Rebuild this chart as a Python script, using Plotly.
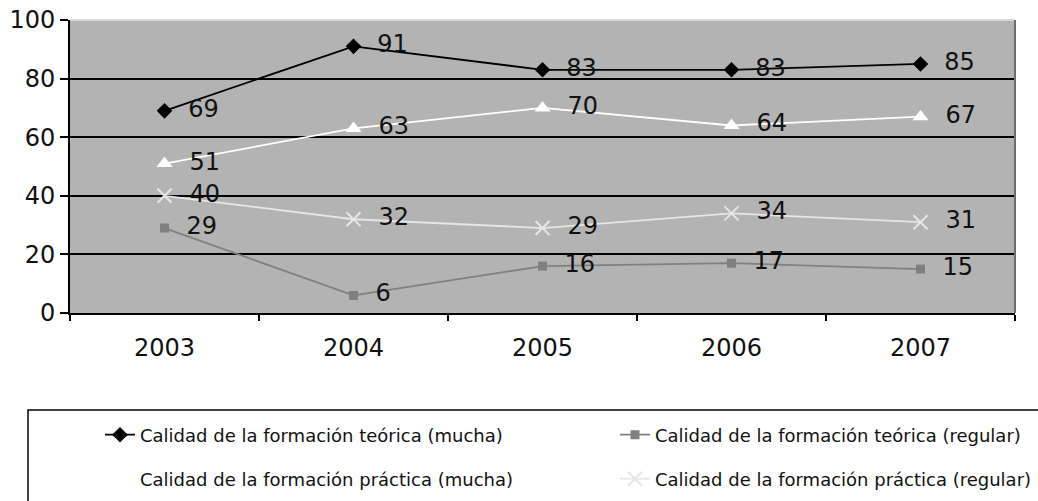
import plotly.graph_objects as go

years = ["2003", "2004", "2005", "2006", "2007"]
teorica_mucha = [69, 91, 83, 83, 85]
teorica_regular = [29, 6, 16, 17, 15]
practica_mucha = [51, 63, 70, 64, 67]
practica_regular = [40, 32, 29, 34, 31]
y_ticks = [0, 20, 40, 60, 80, 100]

names = [
    "Calidad de la formación teórica (mucha)",
    "Calidad de la formación teórica (regular)",
    "Calidad de la formación práctica (mucha)",
    "Calidad de la formación práctica (regular)",
]
series = [teorica_mucha, teorica_regular, practica_mucha, practica_regular]
colors = ["#000000", "#808080", "#ffffff", "#e6e6e6"]
symbols = ["diamond", "square", "triangle-up", "x-thin"]
sizes = [12, 9, 14, 14]
legends = ["legend", "legend2", "legend3", "legend4"]

FONT = "DejaVu Sans"

fig = go.Figure()
for vals, name, col, sym, sz, lg in zip(series, names, colors, symbols, sizes, legends):
    fig.add_trace(go.Scatter(
        x=years, y=vals, name=name, legend=lg,
        mode="lines+markers+text",
        text=[f"  {v}" for v in vals],
        textposition="middle right",
        textfont=dict(family=FONT, size=24, color="#111111"),
        line=dict(color=col, width=1.8),
        marker=dict(symbol=sym, size=sz, color=col,
                    line=dict(color=col, width=2 if sym == "x-thin" else 0)),
        cliponaxis=False,
    ))

# body margin is removed by post_script, so figure px == viewport px
W, H = 1038, 501
PL, PR, PT, PB = 70, 1015, 20, 313  # plot area in px
L, R, T, B = PL, W - PR, PT, H - PB
pw, ph = W - L - R, H - T - B

def px_x(px):
    return (px - PL) / pw

def px_y(py):
    return (PB - py) / ph

def leg(xpx, ypx):
    return dict(orientation="h", x=px_x(xpx), xanchor="left", y=px_y(ypx), yanchor="middle",
                font=dict(family=FONT, size=18, color="#111111"),
                bgcolor="rgba(0,0,0,0)", borderwidth=0)

fig.update_layout(
    width=W, height=H,
    margin=dict(l=L, r=R, t=T, b=B, autoexpand=False),
    paper_bgcolor="white",
    plot_bgcolor="#b3b3b3",
    font=dict(family=FONT, color="#111111"),
    showlegend=True,
    legend=leg(100, 435),
    legend2=leg(615, 435),
    legend3=leg(100, 479),
    legend4=leg(615, 479),
    xaxis=dict(
        type="category", tickson="boundaries",
        showgrid=False, showline=True, linecolor="black", linewidth=2,
        ticks="outside", ticklen=6, tickcolor="black", tickwidth=2,
        ticklabelstandoff=12,
        tickfont=dict(family=FONT, size=24, color="#111111"),
        range=[-0.5, 4.5],
    ),
    yaxis=dict(
        range=[0, 100], tickmode="array", tickvals=y_ticks,
        ticklabeloverflow="allow",
        showgrid=True, gridcolor="black", gridwidth=1.5,
        zeroline=False,
        showline=True, linecolor="black", linewidth=2,
        ticks="outside", ticklen=8, tickcolor="black", tickwidth=2,
        tickfont=dict(family=FONT, size=24, color="#111111"),
    ),
    shapes=[
        dict(type="line", xref="paper", yref="paper", x0=0, x1=1, y0=1, y1=1,
             line=dict(color="#d8d8d8", width=2), layer="above"),
        dict(type="line", xref="paper", yref="paper", x0=1, x1=1, y0=0, y1=1,
             line=dict(color="#6e6e6e", width=2), layer="above"),
        dict(type="rect", xref="paper", yref="paper",
             x0=px_x(28), x1=px_x(1060), y0=px_y(410), y1=px_y(520),
             line=dict(color="black", width=1.5), fillcolor="rgba(0,0,0,0)"),
    ],
)

fig.write_html("out.html",
               config={"displayModeBar": False},
               post_script="document.body.style.margin='0';document.body.style.overflow='hidden';")
